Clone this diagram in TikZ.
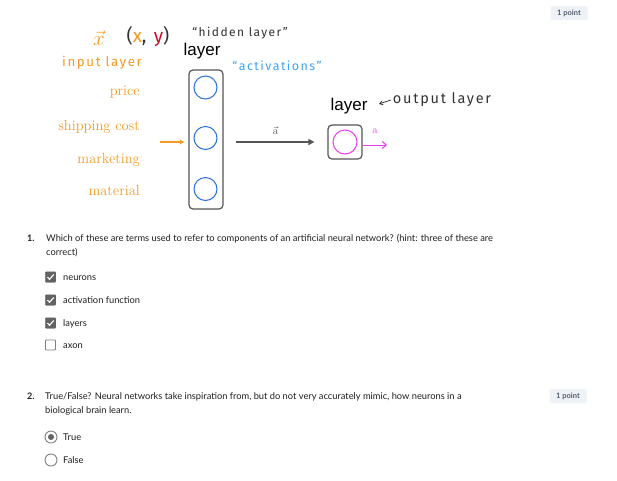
\documentclass[tikz,border=0pt]{standalone}
\usepackage{fontspec}
\newfontfamily\qfont{Lato}
\newfontfamily\handfont{Fira Sans}[LetterSpace=12]
\newfontfamily\lsans{Liberation Sans}
\usetikzlibrary{arrows.meta}
\definecolor{ora}{HTML}{F59A23}
\definecolor{nblue}{HTML}{2A6FE0}
\definecolor{actblue}{HTML}{3DA5F4}
\definecolor{mag}{HTML}{F03CF0}
\definecolor{ry}{HTML}{C8102E}
\definecolor{boxg}{HTML}{555555}
\definecolor{handdark}{HTML}{333333}
\definecolor{qtext}{HTML}{1F1F1F}
\definecolor{badgebg}{HTML}{EEF1F6}
\definecolor{badgetext}{HTML}{545F6E}
\definecolor{checkfill}{HTML}{636363}
\begin{document}
\begin{tikzpicture}[x=1pt,y=-1pt,
  serifo/.style={text=ora,font=\fontsize{14.5}{14.5}\selectfont,anchor=base east,inner sep=0},
  hand/.style={font=\handfont\fontsize{11}{11}\selectfont,inner sep=0},
  layerlbl/.style={font=\lsans\fontsize{17}{17}\selectfont,inner sep=0},
  qtxt/.style={font=\qfont\fontsize{9.3}{11}\selectfont,text=qtext,anchor=base west,inner sep=0},
  qnum/.style={font=\qfont\bfseries\fontsize{9}{11}\selectfont,text=qtext,anchor=base west,inner sep=0},
  neuron/.style={circle,draw=nblue,line width=1pt,minimum size=23pt,inner sep=0},
  layerbox/.style={draw=boxg,line width=1.2pt,rounded corners=4pt,inner sep=0},
  chk/.style={draw=checkfill,fill=checkfill,minimum size=10.5pt,inner sep=0,rounded corners=0.8pt},
  unchk/.style={draw=gray,fill=white,line width=0.9pt,minimum size=10pt,inner sep=0,rounded corners=0.8pt},
  tick/.style={white,line width=1.1pt},
  radio/.style={circle,draw=gray,line width=0.9pt,minimum size=12pt,inner sep=0},
  badge/.style={fill=badgebg,rounded corners=2pt,text=badgetext,font=\qfont\bfseries\fontsize{7.5}{9}\selectfont,minimum width=37pt,minimum height=14pt,inner sep=0},
]
\useasboundingbox (0,0) rectangle (617,480);
\fill[white] (0,0) rectangle (617,480);

% top handwritten labels
\node[text=ora,font=\fontsize{20}{20}\selectfont,inner sep=0] (xv) at (99,38) {$\vec{x}$};
\node[hand,text=handdark,font=\handfont\fontsize{19}{19}\selectfont] (xy) at (148,36) {(\textcolor{ora}{x},\ \textcolor{ry}{y})};
\node[hand,text=handdark,font=\handfont\fontsize{12}{12}\selectfont] (hidlbl) at (240,33) {“hidden layer”};
\node[layerlbl] (hlayer) at (202,51) {layer};
\node[hand,text=ora,font=\handfont\fontsize{13.3}{13.3}\selectfont] (inlbl) at (102,63) {input layer};
\node[hand,text=actblue,font=\handfont\fontsize{12.4}{12.4}\selectfont] (actlbl) at (277,66) {“activations”};

% input features
\node[serifo] (price) at (140,95) {price};
\node[serifo] (ship) at (140,130) {shipping cost};
\node[serifo] (mkt) at (140,163) {marketing};
\node[serifo] (mat) at (140,195) {material};

% hidden layer
\node[layerbox,minimum width=34pt,minimum height=139pt] (hid) at (206,139.5) {};
\node[neuron] (h1) at (205.5,87.5) {};
\node[neuron] (h2) at (205.5,138) {};
\node[neuron] (h3) at (205.5,189) {};

\coordinate (inS) at (160,142);
\draw[ora,line width=1.3pt,-{Stealth[length=5pt,width=5pt]},shorten >=4pt] (inS) -- (inS -| hid.west);

% output layer
\node[layerbox,minimum width=34pt,minimum height=34pt] (out) at (345,142) {};
\node[circle,draw=mag,line width=1pt,minimum size=24pt,inner sep=0] (o1) at (345,142) {};
\node[layerlbl] (olayer) at (349,106) {layer};
\node[hand,text=handdark,font=\handfont\fontsize{14.5}{14.5}\selectfont] (ollbl) at (442,100) {output layer};
\coordinate (olTip) at (379,104);
\draw[handdark,line width=0.8pt,-{Straight Barb[length=3pt,width=4pt]}] ([xshift=-2pt]ollbl.west) -- (olTip);

\draw[boxg,line width=1.8pt,-{Triangle[length=6pt,width=6pt]},shorten <=12pt,shorten >=13pt] (hid.east |- out.west) -- node[above=3pt,text=boxg,font=\fontsize{11}{11}\selectfont] (avec) {$\vec{\mathrm{a}}$} (out.west);

\coordinate (aend) at (387,145);
\draw[mag,line width=1pt,-{Straight Barb[length=4pt,width=7pt]}] (out.east |- aend) -- (aend);
\node[text=mag,font=\fontsize{11}{11}\selectfont,inner sep=0] (alab) at (375,131) {a};

% question 1
\node[qnum] (n1) at (27,241) {1.};
\node[qtxt] (q1a) at (46,241) {Which of these are terms used to refer to components of an artificial neural network? (hint: three of these are};
\node[qtxt] (q1b) at (46,255) {correct)};

\node[chk] (c1) at (50.5,277) {};
\node[chk] (c2) at (50.5,300) {};
\node[chk] (c3) at (50.5,323) {};
\node[unchk] (c4) at (50.5,345) {};
\foreach \c in {c1,c2,c3}{
  \draw[tick] ([shift={(-3,0)}]\c.center) -- ([shift={(-1,2.3)}]\c.center) -- ([shift={(3.2,-2.5)}]\c.center);
}
\node[qtxt] (l1) at (63,280) {neurons};
\node[qtxt] (l2) at (63,303) {activation function};
\node[qtxt] (l3) at (63,326) {layers};
\node[qtxt] (l4) at (63,348) {axon};

% question 2
\node[qnum] (n2) at (27,399) {2.};
\node[qtxt] (q2a) at (45,399) {True/False? Neural networks take inspiration from, but do not very accurately mimic, how neurons in a};
\node[qtxt] (q2b) at (45,413) {biological brain learn.};

\node[radio] (r1) at (51,437) {};
\node[circle,fill=checkfill,minimum size=6pt,inner sep=0] (r1d) at (r1.center) {};
\node[radio] (r2) at (51,460) {};
\node[qtxt] (t1) at (63,440) {True};
\node[qtxt] (t2) at (63,463) {False};

% badges
\node[badge] (p1) at (569,13) {1 point};
\node[badge] (p2) at (568,396) {1 point};
\end{tikzpicture}
\end{document}
